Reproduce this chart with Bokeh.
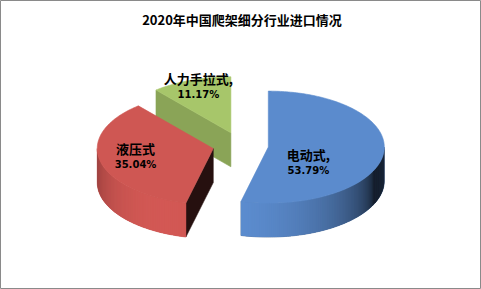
import numpy as np
from bokeh.plotting import figure
from bokeh.models import Range1d, Label
from bokeh.core.properties import value
from bokeh.embed import file_html
from bokeh.resources import INLINE

# ---- data ----
categories = ["电动式", "液压式", "人力手拉式"]
shares = [53.79, 35.04, 11.17]
name_labels = ["电动式,", "液压式", "人力手拉式,"]
pct_labels = ["53.79%", "35.04%", "11.17%"]
chart_title = "2020年中国爬架细分行业进口情况"

# ---- style ----
top_colors = ["#5B8BCD", "#CF5753", "#A7C66A"]
label_fx = [0.345, -0.67, -0.28]
label_fy = [0.275, 0.14, -0.83]

W, H = 481, 289
CX, CY = 240.0, 145.0
RX, RY = 116.0, 56.0
DEPTH = 34.0
EXPLODE = 28.0
LIGHT = 205.0


def hex_rgb(h):
    h = h.lstrip("#")
    return [int(h[i:i + 2], 16) for i in (0, 2, 4)]


def shade(h, f):
    r = hex_rgb(h)
    return "#%02x%02x%02x" % tuple(int(max(0, min(255, c * f))) for c in r)


def light_factor(normal_deg):
    c = np.cos(np.radians(normal_deg - LIGHT))
    return 0.22 + 0.8 * (max(0.0, c) ** 0.6)


def pt(vx, vy, a, dz=0.0):
    r = np.radians(a)
    return vx + RX * np.sin(r), vy - RY * np.cos(r) + dz


total = float(sum(shares))
bounds = np.concatenate([[0.0], np.cumsum(shares) / total * 360.0])

slices = []
for i, s in enumerate(shares):
    a0, a1 = bounds[i], bounds[i + 1]
    m = 0.5 * (a0 + a1)
    mr = np.radians(m)
    vx = CX + EXPLODE * np.sin(mr)
    vy = CY - EXPLODE * (RY / RX) * np.cos(mr)
    slices.append((i, a0, a1, m, vx, vy))

# painter order: back (small vy) first
order = sorted(slices, key=lambda t: t[5])

xs, ys, cols = [], [], []          # fill-only polygons (side strips)
txs, tys, tcols = [], [], []       # polygons with edge (faces)
layers = []
for (i, a0, a1, m, vx, vy) in order:
    base = top_colors[i]
    fx, fy, fc = [], [], []
    # cut faces
    for a, n in ((a0, a0 - 90.0), (a1, a1 + 90.0)):
        if np.cos(np.radians(n - 180.0)) > 0.01:
            px, py = pt(vx, vy, a)
            fx.append([vx, px, px, vx])
            fy.append([vy, py, py + DEPTH, vy + DEPTH])
            fc.append(shade(base, 0.85 * light_factor(n)))
    # outer side, visible front half only
    lo, hi = max(a0, 90.0), min(a1, 270.0)
    sx, sy, sc = [], [], []
    if hi > lo:
        angs = np.linspace(lo, hi, max(2, int((hi - lo) / 1.0) + 1))
        # underlying whole side
        ax, ay = pt(vx, vy, angs)
        bx, by = pt(vx, vy, angs[::-1], DEPTH)
        fx.append(list(ax) + list(bx))
        fy.append(list(ay) + list(by))
        fc.append(shade(base, light_factor(0.5 * (lo + hi))))
        step = angs[1] - angs[0]
        for k in range(len(angs) - 1):
            t0 = angs[k]
            t1 = min(hi, angs[k + 1] + 0.8 * step)
            x0, y0 = pt(vx, vy, t0)
            x1, y1 = pt(vx, vy, t1)
            sx.append([x0, x1, x1, x0])
            sy.append([y0, y1, y1 + DEPTH, y0 + DEPTH])
            sc.append(shade(base, light_factor(angs[k] + 0.5 * step)))
    # top face
    angs = np.linspace(a0, a1, max(2, int(a1 - a0) + 1))
    px, py = pt(vx, vy, angs)
    layers.append((fx, fy, fc, sx, sy, sc, [vx] + list(px), [vy] + list(py), base))

p = figure(width=W, height=H, x_range=Range1d(0, W), y_range=Range1d(H, 0),
           output_backend="svg", toolbar_location=None, min_border=0,
           x_axis_type=None, y_axis_type=None)
p.grid.visible = False
p.background_fill_color = "white"
p.border_fill_color = "white"
p.outline_line_color = "#8a8a8a"
p.outline_line_width = 1

for (fx, fy, fc, sx, sy, sc, tx, ty, base) in layers:
    if fx:
        p.patches(fx, fy, fill_color=fc, line_color=fc, line_width=0.6)
    if sx:
        p.patches(sx, sy, fill_color=sc, line_alpha=0)
    p.patch(tx, ty, fill_color=base, line_color=base, line_width=0.6)

# labels
lx, ly = [], []
for (i, a0, a1, m, vx, vy) in slices:
    lx.append(vx + label_fx[i] * RX)
    ly.append(vy + label_fy[i] * RY)
ly_name = [y - 8 for y in ly]
ly_pct = [y + 8 for y in ly]
p.text(lx, ly_name, text=name_labels, text_align="center", text_baseline="middle",
       text_font=value("Noto Sans CJK SC"), text_font_style="bold",
       text_font_size="13px", text_color="#000000")
p.text(lx, ly_pct, text=pct_labels, text_align="center", text_baseline="middle",
       text_font=value("DejaVu Sans"), text_font_style="bold",
       text_font_size="10px", text_color="#000000")

p.add_layout(Label(x=W / 2 + 1, y=19, text=chart_title, text_align="center",
                   text_baseline="middle", text_font="Noto Sans CJK SC",
                   text_font_style="bold", text_font_size="13px",
                   text_color="#000000"))

open("out.html", "w").write(file_html(p, INLINE))
